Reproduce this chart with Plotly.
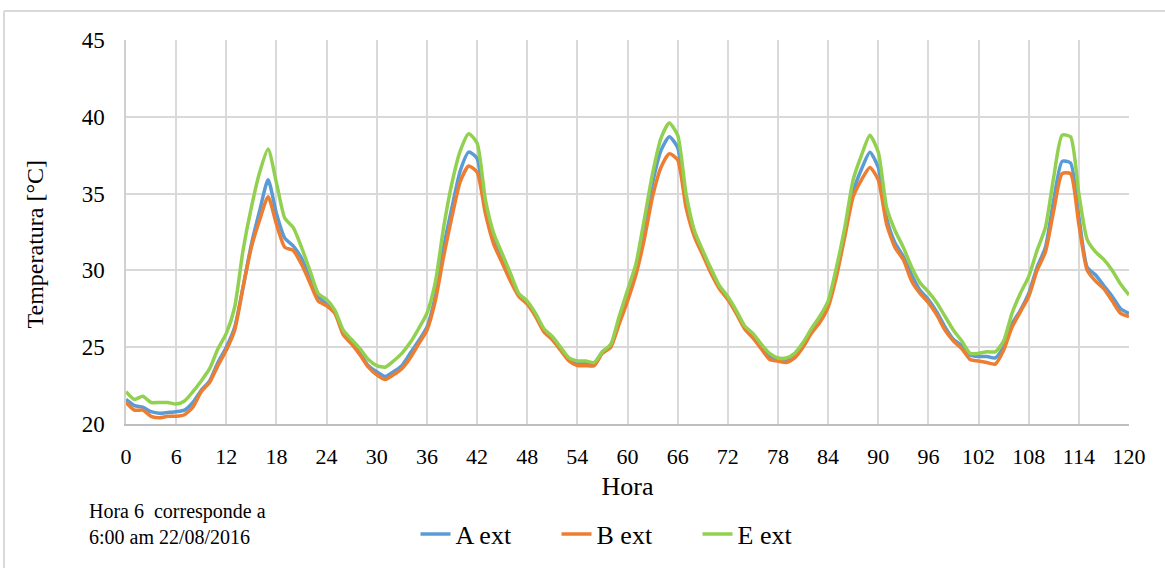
import plotly.graph_objects as go

hours = list(range(0, 121))

a_ext = [21.6, 21.2, 21.1, 20.8, 20.7, 20.75, 20.8, 20.9, 21.4, 22.2, 22.8, 24.0, 25.0, 26.3, 28.9, 31.7, 33.9, 35.9, 33.7, 32.1, 31.6, 30.8, 29.5, 28.3,
         27.8, 27.3, 25.9, 25.3, 24.6, 23.8, 23.4, 23.1, 23.4, 23.8, 24.6, 25.4, 26.3, 28.3, 31.5, 34.1, 36.5, 37.7, 37.3, 33.9, 32.0, 30.8, 29.6, 28.4,
         27.9, 27.1, 26.1, 25.5, 24.9, 24.2, 24.0, 24.0, 23.9, 24.7, 25.1, 26.7, 28.4, 30.1, 32.8, 35.7, 37.8, 38.7, 38.0, 34.6, 32.4, 31.2, 30.0, 28.9,
         28.2, 27.3, 26.3, 25.8, 25.0, 24.4, 24.2, 24.2, 24.5, 25.1, 26.0, 26.7, 27.8, 29.8, 32.4, 35.1, 36.6, 37.7, 36.7, 33.4, 31.8, 30.9, 29.7, 28.7,
         28.1, 27.3, 26.3, 25.5, 25.1, 24.5, 24.4, 24.4, 24.3, 25.0, 26.5, 27.4, 28.5, 30.2, 31.5, 34.6, 37.1, 37.0, 33.5, 30.2, 29.7, 29.0, 28.3, 27.5,
         27.2]

b_ext = [21.4, 20.9, 20.9, 20.5, 20.4, 20.5, 20.5, 20.6, 21.1, 22.1, 22.7, 23.8, 24.8, 26.1, 28.9, 31.5, 33.3, 34.8, 33.0, 31.5, 31.3, 30.4, 29.2, 28.0,
         27.7, 27.2, 25.8, 25.2, 24.5, 23.7, 23.2, 22.9, 23.2, 23.6, 24.3, 25.2, 26.1, 28.0, 30.9, 33.5, 35.8, 36.8, 36.4, 33.7, 31.7, 30.5, 29.3, 28.3,
         27.8, 27.0, 26.0, 25.5, 24.8, 24.1, 23.8, 23.8, 23.8, 24.6, 25.0, 26.5, 28.0, 29.7, 32.0, 34.8, 36.7, 37.6, 37.2, 34.1, 32.2, 31.0, 29.8, 28.8,
         28.1, 27.2, 26.2, 25.6, 24.9, 24.2, 24.1, 24.0, 24.3, 25.0, 25.9, 26.6, 27.6, 29.6, 32.2, 34.8, 35.9, 36.7, 35.9, 33.0, 31.5, 30.7, 29.3, 28.5,
         27.9, 27.1, 26.1, 25.4, 24.9, 24.2, 24.1, 24.0, 23.9, 24.8, 26.3, 27.3, 28.3, 30.0, 31.2, 33.9, 36.3, 36.3, 33.0, 30.0, 29.3, 28.8, 28.0, 27.2,
         27.0]

e_ext = [22.1, 21.6, 21.8, 21.4, 21.4, 21.4, 21.3, 21.5, 22.1, 22.8, 23.6, 24.9, 25.9, 27.6, 31.3, 34.1, 36.4, 37.9, 35.7, 33.4, 32.8, 31.5, 30.0, 28.5,
         28.1, 27.4, 26.1, 25.5, 24.9, 24.2, 23.8, 23.7, 24.1, 24.6, 25.3, 26.2, 27.2, 29.2, 32.8, 35.7, 37.8, 38.9, 38.3, 34.6, 32.4, 31.1, 29.8, 28.5,
         28.0, 27.2, 26.2, 25.7, 25.0, 24.3, 24.1, 24.1, 24.0, 24.7, 25.2, 27.0, 28.7, 30.4, 33.3, 36.3, 38.6, 39.6, 38.8, 35.0, 32.6, 31.3, 30.1, 29.0,
         28.3, 27.4, 26.4, 25.9, 25.2, 24.6, 24.3, 24.3, 24.6, 25.3, 26.2, 27.0, 28.0, 30.2, 32.8, 35.9, 37.5, 38.8, 37.7, 34.1, 32.6, 31.5, 30.2, 29.2,
         28.6, 27.9, 27.0, 26.1, 25.4, 24.6, 24.6, 24.7, 24.7, 25.4, 27.2, 28.5, 29.6, 31.3, 32.8, 36.1, 38.8, 38.7, 35.0, 32.0, 31.2, 30.7, 30.0, 29.1,
         28.4]

series_names = ["A ext", "B ext", "E ext"]
series_colors = ["#5B9BD5", "#ED7D31", "#92D050"]
x_ticks = list(range(0, 121, 6))
y_ticks = [20, 25, 30, 35, 40, 45]

FONT = "Liberation Serif, Times New Roman, serif"

W, H = 1165, 568
L, R, T, B = 126, 36, 40, 143
PW, PH = W - L - R, H - T - B


def px_x(px):
    return (px - L) / PW


def px_y(py):
    return (H - B - py) / PH


fig = go.Figure()
for name, color, vals in zip(series_names, series_colors, [a_ext, b_ext, e_ext]):
    fig.add_trace(go.Scatter(
        x=hours, y=vals, name=name, mode="lines",
        line=dict(color=color, width=3.5, shape="spline", smoothing=0.6),
    ))

fig.update_layout(
    width=W, height=H, autosize=False,
    margin=dict(l=L, r=R, t=T, b=B),
    paper_bgcolor="white", plot_bgcolor="white",
    font=dict(family=FONT, color="black", size=22),
    showlegend=True,
    legend=dict(
        orientation="h", x=px_x(627), y=px_y(534), xanchor="center", yanchor="middle",
        font=dict(family=FONT, size=26, color="black"),
        entrywidth=96, itemwidth=30, bgcolor="rgba(0,0,0,0)",
    ),
    xaxis=dict(
        range=[0, 120], tickmode="array", tickvals=x_ticks, ticktext=[str(t) for t in x_ticks],
        showgrid=True, gridcolor="#d9d9d9", gridwidth=1.5,
        showline=True, linecolor="#bfbfbf", linewidth=2,
        zeroline=False, ticks="", ticklabelstandoff=12,
        tickfont=dict(family=FONT, size=22, color="black"),
        title=dict(text="Hora", font=dict(family=FONT, size=26, color="black"), standoff=8),
    ),
    yaxis=dict(
        range=[20, 45], tickmode="array", tickvals=y_ticks,
        showgrid=True, gridcolor="#d9d9d9", gridwidth=1.5,
        showline=True, linecolor="#d0d0d0", linewidth=1.5,
        zeroline=False, ticks="", ticklabelstandoff=15,
        tickfont=dict(family=FONT, size=23, color="black"),
    ),
)

# y-axis title
fig.add_annotation(
    text="Temperatura [°C]", xref="paper", yref="paper",
    x=px_x(35), y=px_y(245), xanchor="center", yanchor="middle",
    textangle=-90, showarrow=False,
    font=dict(family=FONT, size=24, color="black"),
)

# note
fig.add_annotation(
    text="Hora 6&nbsp;&nbsp;corresponde a<br>6:00 am 22/08/2016", xref="paper", yref="paper",
    x=px_x(87), y=px_y(499), xanchor="left", yanchor="top", align="left",
    showarrow=False, font=dict(family=FONT, size=20, color="black"),
)

# chart-area border (top and left edges visible)
fig.add_shape(type="line", xref="paper", yref="paper",
              x0=px_x(4), x1=px_x(1166), y0=px_y(11), y1=px_y(11),
              line=dict(color="#d9d9d9", width=2))
fig.add_shape(type="line", xref="paper", yref="paper",
              x0=px_x(4), x1=px_x(4), y0=px_y(11), y1=px_y(570),
              line=dict(color="#d9d9d9", width=2))

fig.write_html("out.html")
